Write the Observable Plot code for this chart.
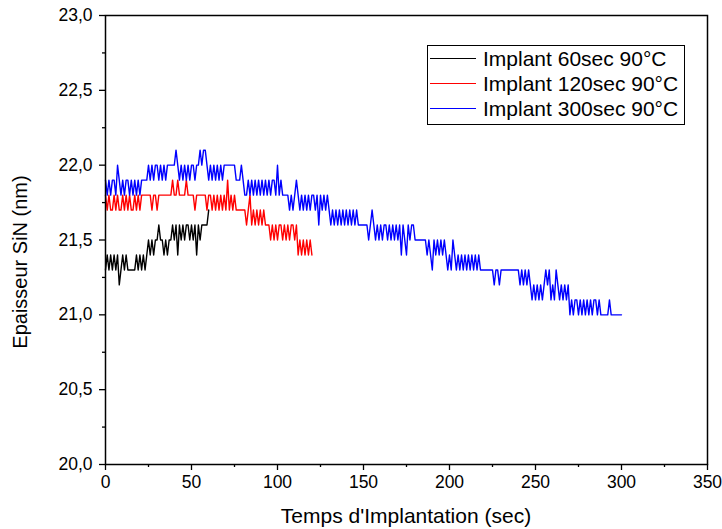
<!DOCTYPE html>
<html><head><meta charset="utf-8">
<script src="https://cdn.jsdelivr.net/npm/d3@7"></script>
<script src="https://cdn.jsdelivr.net/npm/@observablehq/plot@0.6"></script>
<style>
body{margin:0;background:#fff;font-family:Arial,"Liberation Sans",sans-serif}
#wrap{position:relative;width:722px;height:529px;overflow:hidden}
#legend{position:absolute;left:427px;top:45px;width:258px;height:80px;border:1.3px solid #000;background:#fff;box-sizing:border-box;font-size:21px;color:#000}
.row{height:25px;display:flex;align-items:center}
.sw{width:46px;height:0;border-top:1.3px solid;margin-left:2px;margin-right:7px}
#xt{position:absolute;left:105px;width:602px;top:504px;text-align:center;font-size:21px;color:#000}
#yt{position:absolute;left:20px;top:262px;transform:translate(-50%,-50%) rotate(-90deg);white-space:nowrap;font-size:20px;color:#000}
</style></head>
<body><div id="wrap"></div>
<script>
const seriesNames = ["Implant 60sec 90°C", "Implant 120sec 90°C", "Implant 300sec 90°C"];
const seriesColors = ["#000000", "#ff0000", "#0000ff"];
const xTicks = [0, 50, 100, 150, 200, 250, 300, 350];
const xMinorTicks = [25, 75, 125, 175, 225, 275, 325];
const yTicks = [20.0, 20.5, 21.0, 21.5, 22.0, 22.5, 23.0];
const yMinorTicks = [20.25, 20.75, 21.25, 21.75, 22.25, 22.75];
const xTitle = "Temps d'Implantation (sec)";
const yTitle = "Epaisseur SiN (nm)";

// thickness readings, one per second starting at t = 0
const values60 = [
 21.3,21.4,21.3,21.4,21.3,21.4,21.3,21.4,21.2,21.3,
 21.4,21.3,21.4,21.3,21.3,21.3,21.3,21.3,21.4,21.3,
 21.4,21.3,21.4,21.3,21.4,21.5,21.4,21.5,21.4,21.5,
 21.5,21.6,21.5,21.5,21.4,21.5,21.4,21.5,21.5,21.6,
 21.5,21.6,21.4,21.6,21.5,21.6,21.5,21.6,21.6,21.5,
 21.6,21.5,21.6,21.4,21.6,21.5,21.6,21.6,21.6,21.6,
 21.7];
const values120 = [
 21.8,21.7,21.8,21.7,21.7,21.8,21.7,21.8,21.7,21.7,
 21.8,21.7,21.8,21.7,21.8,21.7,21.7,21.8,21.7,21.8,
 21.7,21.8,21.8,21.8,21.8,21.8,21.8,21.7,21.8,21.8,
 21.7,21.8,21.8,21.8,21.8,21.8,21.8,21.8,21.8,21.9,
 21.8,21.8,21.9,21.8,21.8,21.8,21.8,21.9,21.8,21.8,
 21.8,21.8,21.7,21.8,21.8,21.8,21.8,21.8,21.8,21.7,
 21.8,21.8,21.7,21.8,21.7,21.8,21.7,21.8,21.7,21.8,
 21.7,21.9,21.7,21.8,21.7,21.8,21.7,21.7,21.7,21.7,
 21.7,21.7,21.6,21.7,21.8,21.6,21.7,21.6,21.7,21.6,
 21.7,21.6,21.7,21.6,21.6,21.6,21.5,21.6,21.5,21.6,
 21.5,21.6,21.6,21.5,21.6,21.5,21.6,21.5,21.6,21.6,
 21.5,21.6,21.4,21.5,21.4,21.5,21.4,21.5,21.4,21.5,
 21.4];
const values300 = [
 21.9,21.8,21.9,21.8,21.9,21.9,21.8,22.0,21.9,21.8,
 21.9,21.8,21.9,21.9,21.8,21.9,21.8,21.9,21.8,21.9,
 21.8,21.9,21.9,21.9,21.9,22.0,21.9,22.0,21.9,22.0,
 22.0,21.9,22.0,21.9,22.0,21.9,22.0,22.0,22.0,22.0,
 22.0,22.1,22.0,21.9,22.0,21.9,22.0,21.9,22.0,21.9,
 22.0,22.0,21.9,22.0,22.0,22.1,22.0,22.1,22.1,22.0,
 21.9,22.0,21.9,22.0,21.9,22.0,21.9,22.0,21.9,22.0,
 22.0,22.0,22.0,22.0,22.0,22.0,21.9,21.9,21.9,22.0,
 21.9,21.8,21.8,21.9,21.8,21.9,21.8,21.9,21.8,21.9,
 21.8,21.9,21.8,21.9,21.8,21.9,21.8,21.9,21.9,21.8,
 22.0,21.8,21.9,21.8,21.8,21.8,21.8,21.7,21.8,21.7,
 21.8,21.9,21.8,21.7,21.8,21.7,21.8,21.7,21.8,21.7,
 21.8,21.8,21.7,21.8,21.6,21.8,21.7,21.8,21.7,21.8,
 21.7,21.6,21.7,21.6,21.7,21.6,21.7,21.6,21.7,21.6,
 21.7,21.6,21.7,21.6,21.7,21.6,21.7,21.6,21.6,21.6,
 21.6,21.6,21.6,21.5,21.6,21.7,21.6,21.5,21.6,21.5,
 21.6,21.5,21.6,21.6,21.5,21.6,21.5,21.6,21.5,21.6,
 21.5,21.6,21.4,21.6,21.5,21.4,21.6,21.5,21.6,21.6,
 21.5,21.5,21.5,21.5,21.5,21.5,21.5,21.4,21.5,21.4,
 21.3,21.5,21.4,21.5,21.4,21.5,21.4,21.5,21.4,21.3,
 21.4,21.3,21.5,21.4,21.3,21.4,21.3,21.4,21.3,21.4,
 21.3,21.4,21.3,21.4,21.3,21.4,21.3,21.4,21.3,21.3,
 21.3,21.3,21.3,21.3,21.3,21.3,21.2,21.3,21.3,21.2,
 21.3,21.3,21.3,21.3,21.3,21.3,21.3,21.3,21.3,21.3,
 21.3,21.2,21.3,21.2,21.3,21.2,21.3,21.2,21.1,21.2,
 21.1,21.2,21.1,21.2,21.1,21.2,21.3,21.2,21.3,21.1,
 21.2,21.1,21.3,21.2,21.1,21.2,21.1,21.2,21.1,21.2,
 21.0,21.1,21.0,21.1,21.1,21.0,21.1,21.0,21.1,21.0,
 21.1,21.0,21.1,21.0,21.1,21.1,21.0,21.1,21.0,21.0,
 21.0,21.0,21.0,21.1,21.0,21.0,21.0,21.0,21.0,21.0,
 21.0];

const allValues = [values60, values120, values300];
const rows = allValues.flatMap((vals, s) => vals.map((v, i) => ({t: i, v, s: seriesNames[s]})));
const comma = d => d.toFixed(1).replace(".", ",");
const font = "Arial, 'Liberation Sans', sans-serif";

const chart = Plot.plot({
  width: 722, height: 529,
  marginLeft: 105, marginRight: 15, marginTop: 15, marginBottom: 65,
  style: {fontFamily: font, fontSize: "17.5px", color: "#000", background: "#fff", overflow: "visible"},
  x: {domain: [0, 350], label: null},
  y: {domain: [20, 23], label: null},
  color: {domain: seriesNames, range: seriesColors},
  marks: [
    Plot.axisX(xMinorTicks, {anchor: "bottom", tickSize: 3, tickFormat: () => "", label: null, strokeWidth: 1.3}),
    Plot.axisX(xTicks, {anchor: "bottom", tickSize: 6, tickPadding: 5, tickFormat: d => String(d), label: null, strokeWidth: 1.3}),
    Plot.axisY(yMinorTicks, {anchor: "left", tickSize: 3, tickFormat: () => "", label: null, strokeWidth: 1.3}),
    Plot.axisY(yTicks, {anchor: "left", tickSize: 6, tickPadding: 7, tickFormat: comma, label: null, strokeWidth: 1.3}),
    Plot.line(rows, {x: "t", y: "v", z: "s", stroke: "s", strokeWidth: 1.4}),
    Plot.frame({stroke: "#000", strokeWidth: 1.5})
  ]
});

const wrap = document.getElementById("wrap");
wrap.appendChild(chart);

const leg = document.createElement("div");
leg.id = "legend";
seriesNames.forEach((n, i) => {
  const r = document.createElement("div"); r.className = "row";
  const sw = document.createElement("span"); sw.className = "sw"; sw.style.borderTopColor = seriesColors[i];
  const tx = document.createElement("span"); tx.textContent = n;
  r.appendChild(sw); r.appendChild(tx); leg.appendChild(r);
});
wrap.appendChild(leg);
const xt = document.createElement("div"); xt.id = "xt"; xt.textContent = xTitle; wrap.appendChild(xt);
const yt = document.createElement("div"); yt.id = "yt"; yt.textContent = yTitle; wrap.appendChild(yt);
</script>
</body></html>
